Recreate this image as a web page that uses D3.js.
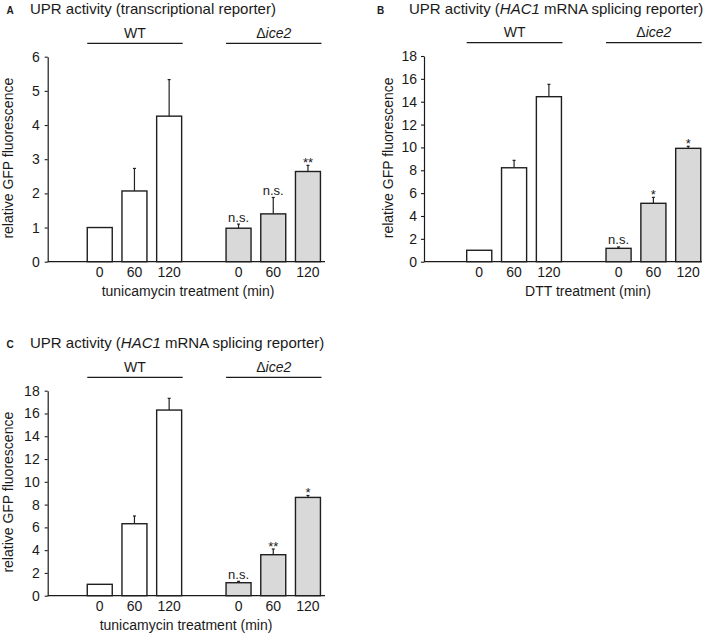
<!DOCTYPE html>
<html><head><meta charset="utf-8">
<script src="https://cdn.jsdelivr.net/npm/d3@7"></script>
<style>
body{margin:0;background:#fff;}
svg text{font-family:"Liberation Sans",Arial,Helvetica,sans-serif;fill:#1a1a1a;}
</style></head>
<body><div id="chart"></div>
<script>
// ---------- data ----------
const timepoints = ["0", "60", "120"];
const groupNames = ["WT", "ice2"];

// Panel A: transcriptional reporter, tunicamycin
const aWT = [1.0, 2.07, 4.26];
const aWTerr = [0, 0.66, 1.07];
const aIce2 = [0.98, 1.40, 2.64];
const aIce2err = [0.12, 0.48, 0.18];
const aSig = ["n.s.", "n.s.", "**"];
const aTicks = [0, 1, 2, 3, 4, 5, 6];

// Panel B: HAC1 splicing reporter, DTT
const bWT = [1.0, 8.22, 14.44];
const bWTerr = [0, 0.65, 1.08];
const bIce2 = [1.17, 5.11, 9.92];
const bIce2err = [0.12, 0.52, 0.18];
const bSig = ["n.s.", "*", "*"];
const bTicks = [0, 2, 4, 6, 8, 10, 12, 14, 16, 18];

// Panel C: HAC1 splicing reporter, tunicamycin
const cWT = [1.0, 6.32, 16.30];
const cWTerr = [0, 0.68, 1.03];
const cIce2 = [1.14, 3.60, 8.63];
const cIce2err = [0.12, 0.50, 0.17];
const cSig = ["n.s.", "**", "*"];
const cTicks = [0, 2, 4, 6, 8, 10, 12, 14, 16, 18];

// ---------- drawing ----------
const W = 708, H = 634;
const svg = d3.select("#chart").append("svg").attr("width", W).attr("height", H);
const INK = "#1a1a1a";

function drawPanel(cfg) {
  const g = svg.append("g");
  const slots = ["g0", "WT-0", "WT-60", "WT-120", "g1", "ice2-0", "ice2-60", "ice2-120"];
  const x = d3.scaleBand().domain(slots)
    .range([cfg.bandX0, cfg.bandX0 + 8 * cfg.step])
    .paddingInner(0.28).paddingOuter(0.14);
  const y = d3.scaleLinear().domain([0, cfg.ymax]).range([cfg.yBot, cfg.yTop]);

  // panel letter and title
  g.append("text").attr("x", cfg.letterX).attr("y", cfg.titleY - 0.5)
    .attr("font-size", 10).attr("font-weight", "bold").text(cfg.letter);
  const t = g.append("text").attr("x", cfg.titleX).attr("y", cfg.titleY).attr("font-size", 15);
  cfg.title.forEach(p => t.append("tspan").attr("font-style", p.it ? "italic" : "normal").text(p.s));

  // y axis
  const ya = d3.axisLeft(y).tickValues(cfg.ticks).tickFormat(d3.format("d"))
    .tickSize(3).tickSizeOuter(0).tickPadding(cfg.tickPad);
  const yg = g.append("g").attr("transform", `translate(${cfg.axisX},0)`).call(ya);
  yg.select(".domain").attr("stroke", INK).attr("stroke-width", 1.2);
  yg.selectAll(".tick line").attr("stroke", INK).attr("stroke-width", 1.1);
  yg.selectAll(".tick text").attr("font-size", 14).attr("fill", INK)
    .style("font-family", '"Liberation Sans",Arial,sans-serif');

  // x axis line
  g.append("line").attr("x1", cfg.axisX).attr("x2", cfg.axisEnd)
    .attr("y1", y(0)).attr("y2", y(0)).attr("stroke", INK).attr("stroke-width", 1.3);

  // bars
  const rows = [];
  groupNames.forEach((gn, gi) => {
    const vals = gi === 0 ? cfg.wt : cfg.ice;
    const errs = gi === 0 ? cfg.wtErr : cfg.iceErr;
    timepoints.forEach((tp, ti) => {
      rows.push({ key: gn + "-" + tp, tp, v: vals[ti], e: errs[ti], grp: gi,
        sig: gi === 1 ? cfg.sig[ti] : null });
    });
  });
  const bw = x.bandwidth();
  g.selectAll("rect.bar").data(rows).enter().append("rect")
    .attr("x", d => x(d.key)).attr("y", d => y(d.v))
    .attr("width", bw).attr("height", d => y(0) - y(d.v))
    .attr("fill", d => d.grp === 0 ? "#ffffff" : "#d9d9d9")
    .attr("stroke", "#1f1f1f").attr("stroke-width", 1.4);

  // error bars
  rows.filter(d => d.e > 0).forEach(d => {
    const cx = x(d.key) + bw / 2;
    g.append("line").attr("x1", cx).attr("x2", cx).attr("y1", y(d.v)).attr("y2", y(d.v + d.e))
      .attr("stroke", "#222").attr("stroke-width", 1.2);
    g.append("line").attr("x1", cx - 1.5).attr("x2", cx + 1.5).attr("y1", y(d.v + d.e)).attr("y2", y(d.v + d.e))
      .attr("stroke", "#222").attr("stroke-width", 1.2);
  });

  // significance
  rows.filter(d => d.sig).forEach(d => {
    const cx = x(d.key) + bw / 2;
    const top = y(d.v + d.e);
    const star = d.sig.indexOf("*") >= 0;
    g.append("text").attr("x", cx).attr("y", star ? top + 2 : top - 2.5)
      .attr("text-anchor", "middle").attr("font-size", 13).text(d.sig);
  });

  // category labels
  g.selectAll("text.cat").data(rows).enter().append("text")
    .attr("x", d => x(d.key) + bw / 2).attr("y", y(0) + 15)
    .attr("text-anchor", "middle").attr("font-size", 14).text(d => d.tp);

  // group labels and lines
  groupNames.forEach((gn, gi) => {
    const k0 = gn + "-0", k2 = gn + "-120";
    const x0 = x(k0), x1 = x(k2) + bw + 1;
    g.append("line").attr("x1", x0).attr("x2", x1).attr("y1", cfg.yTop - 13.4).attr("y2", cfg.yTop - 13.4)
      .attr("stroke", INK).attr("stroke-width", 1.3);
    const lt = g.append("text").attr("x", (x0 + x1) / 2).attr("y", cfg.yTop - 18.7)
      .attr("text-anchor", "middle").attr("font-size", 14);
    if (gi === 0) lt.text(gn);
    else {
      lt.append("tspan").text("\u0394");
      lt.append("tspan").attr("font-style", "italic").text(gn);
    }
  });

  // axis titles
  g.append("text").attr("x", cfg.xTitleX).attr("y", y(0) + 34.5)
    .attr("text-anchor", "middle").attr("font-size", 14).text(cfg.xTitle);
  g.append("text").attr("transform", `translate(${cfg.yTitleX},${(cfg.yTop + cfg.yBot) / 2 - 1}) rotate(-90)`)
    .attr("text-anchor", "middle").attr("font-size", 14).text("relative GFP fluorescence");
}

drawPanel({
  letter: "A", letterX: 6.5, titleX: 30, titleY: 14,
  title: [{ s: "UPR activity (transcriptional reporter)" }],
  axisX: 47.7, bandX0: 47.7, step: 34.7, axisEnd: 325,
  yTop: 56.7, yBot: 261.7, ymax: 6, ticks: aTicks, tickPad: 5,
  wt: aWT, wtErr: aWTerr, ice: aIce2, iceErr: aIce2err, sig: aSig,
  xTitle: "tunicamycin treatment (min)", xTitleX: 188, yTitleX: 13
});
drawPanel({
  letter: "B", letterX: 377, titleX: 409, titleY: 14,
  title: [{ s: "UPR activity (" }, { s: "HAC1", it: true }, { s: " mRNA splicing reporter)" }],
  axisX: 424, bandX0: 427, step: 34.83, axisEnd: 702,
  yTop: 56, yBot: 261.7, ymax: 18, ticks: bTicks, tickPad: 4,
  wt: bWT, wtErr: bWTerr, ice: bIce2, iceErr: bIce2err, sig: bSig,
  xTitle: "DTT treatment (min)", xTitleX: 588, yTitleX: 392.5
});
drawPanel({
  letter: "C", letterX: 6.5, titleX: 30, titleY: 348,
  title: [{ s: "UPR activity (" }, { s: "HAC1", it: true }, { s: " mRNA splicing reporter)" }],
  axisX: 47.7, bandX0: 47.7, step: 34.7, axisEnd: 325,
  yTop: 390.7, yBot: 595.7, ymax: 18, ticks: cTicks, tickPad: 5,
  wt: cWT, wtErr: cWTerr, ice: cIce2, iceErr: cIce2err, sig: cSig,
  xTitle: "tunicamycin treatment (min)", xTitleX: 186, yTitleX: 13
});
</script></body></html>
